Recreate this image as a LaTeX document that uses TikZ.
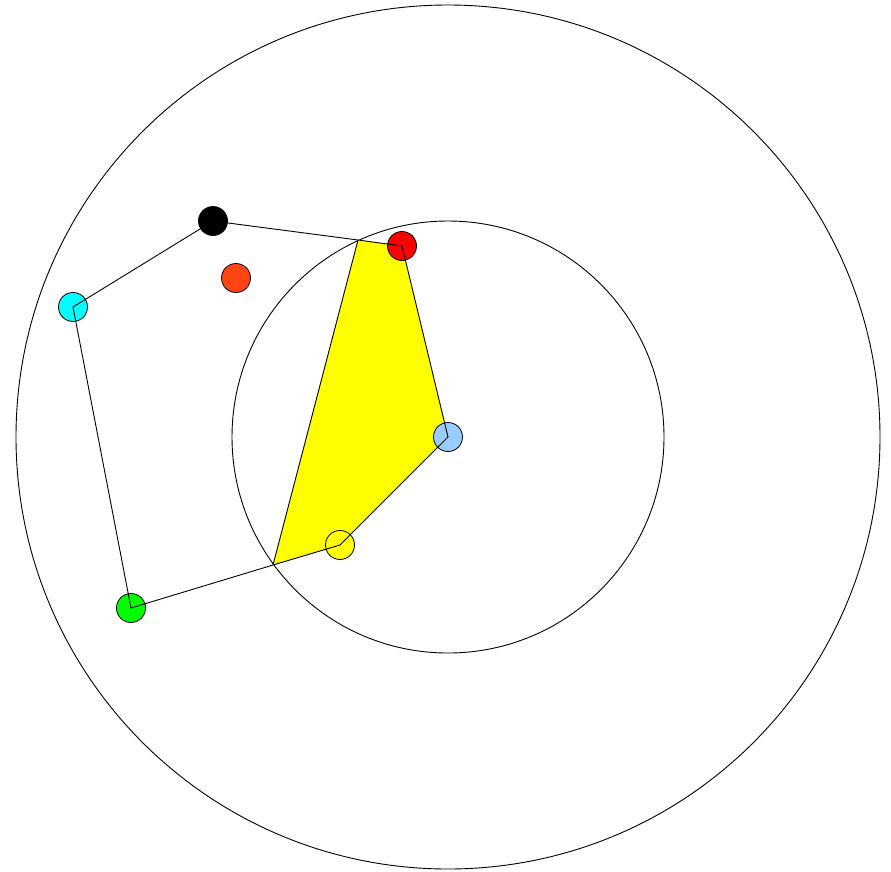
\documentclass[tikz,border=0pt]{standalone}
\definecolor{ptcyan}{RGB}{0,255,255}
\definecolor{ptyellow}{RGB}{255,255,0}
\definecolor{ptgreen}{RGB}{0,255,0}
\definecolor{ptred}{RGB}{255,0,0}
\definecolor{ptorange}{RGB}{255,69,19}
\definecolor{ptblue}{RGB}{153,204,255}
\begin{document}
\begin{tikzpicture}[x=1pt,y=-1pt,line width=0.9pt,
    pt/.style={draw,circle,minimum size=29pt,inner sep=0pt,line width=0.8pt}]
        \useasboundingbox (0,0) rectangle (891,871);
        \draw (448,437) circle (432);
        \draw (448,437) circle (216);
        \coordinate (p1) at (358,240);
        \coordinate (p2) at (273,565);
        \node (black) [pt, fill=black] at (213,221) {};
        \node (orange) [pt, fill=ptorange] at (236,278) {};
        \node (cyan) [pt, fill=ptcyan] at (73,307) {};
        \node (green) [pt, fill=ptgreen] at (131,608) {};
        \fill[ptyellow] (p1) -- (402,246) -- (448,437) -- (340,545) -- (p2) -- cycle;
        \node (red) [pt, fill=ptred] at (402,246) {};
        \node (blue) [pt, fill=ptblue] at (448,437) {};
        \node (yellow) [pt, fill=ptyellow] at (340,545) {};
        \draw (cyan.center) -- (black.center) -- (p1) -- (red.center) -- (blue.center)
            -- (yellow.center) -- (p2) -- (green.center) -- (cyan.center);
        \draw (p1) -- (p2);
    \end{tikzpicture}
\end{document}
